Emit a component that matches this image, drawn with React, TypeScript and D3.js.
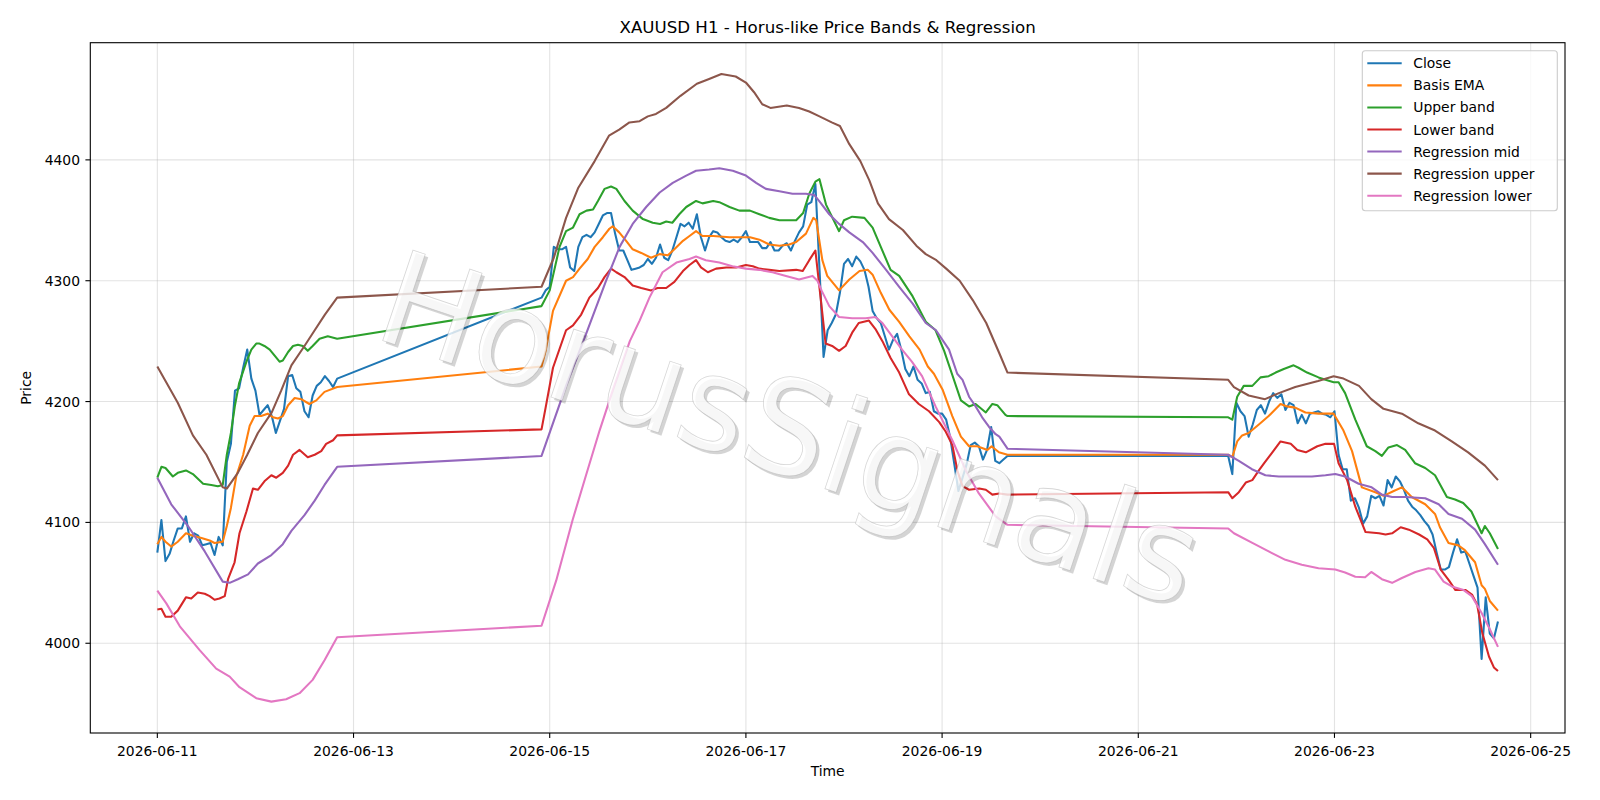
import React from 'react';
import * as d3 from 'd3';

// ---------- DATA ----------
const BASE_TIME = Date.UTC(2026, 5, 11, 0, 0, 0); // 2026-06-11 00:00
const HOUR_MS = 3600 * 1000;

// Hourly close, three trading sessions (start = hours after base time)
const closeSession1Start = 0;
const closeSession1 = [
  4075, 4102, 4068, 4074, 4085, 4095, 4095, 4105, 4084, 4091,
  4089, 4081, 4082, 4083, 4073, 4088, 4081, 4150, 4165, 4209,
  4211, 4228, 4243, 4219, 4209, 4189, 4193, 4197, 4188, 4174,
  4184, 4194, 4221, 4222, 4211, 4208, 4192, 4187, 4205, 4213,
  4216, 4221, 4217, 4212, 4219,
];
const closeSession2Start = 94;
const closeSession2 = [
  4286, 4292, 4295, 4328, 4326, 4326, 4328, 4311, 4308, 4328,
  4336, 4338, 4336, 4340, 4347, 4354, 4356, 4356, 4339, 4325,
  4325, 4317, 4309, 4310, 4311, 4313, 4318, 4314, 4319, 4330,
  4319, 4317, 4325, 4336, 4347, 4345, 4348, 4343, 4355, 4336,
  4325, 4336, 4341, 4340, 4336, 4333, 4332, 4334, 4332, 4336,
  4341, 4332, 4332, 4332, 4327, 4327, 4332, 4325, 4325, 4329,
  4331, 4325, 4333, 4340, 4345, 4363, 4365, 4380, 4310, 4237,
  4259, 4265, 4272, 4290, 4314, 4318, 4312, 4320, 4316, 4309,
  4295, 4275, 4269, 4265, 4254, 4243, 4251, 4256, 4243, 4227,
  4221, 4229, 4218, 4215, 4207, 4208, 4192, 4190, 4190, 4185,
  4170, 4148, 4126, 4137, 4148, 4164, 4166, 4163, 4152, 4160,
  4179, 4151, 4149, 4152, 4155,
];
const closeSession3Start = 262;
const closeSession3 = [
  4155, 4140, 4199, 4192, 4188, 4171, 4181, 4193, 4197, 4190,
  4200, 4207, 4203, 4206, 4193, 4199, 4197, 4182, 4189, 4182,
  4190, 4191, 4192, 4190, 4189, 4187, 4192, 4156, 4144, 4144,
  4118, 4120, 4112, 4099, 4105, 4122, 4120, 4122, 4114, 4135,
  4129, 4138, 4134, 4127, 4118, 4113, 4110, 4106, 4101, 4097,
  4090, 4075, 4061, 4061, 4063, 4075, 4086, 4075, 4076, 4066,
  4056, 4046, 3987, 4038, 4008, 4004, 4018,
];

// Smoother series as [hour, price] readings
const basisEma: [number, number][] = [
  [0, 4082], [1, 4088], [2, 4084], [3.4, 4080], [5, 4084], [7, 4091], [8.7, 4089], [10.8, 4087], [12.8, 4085], [14, 4083], [16, 4084],
  [17, 4097], [18, 4112], [19.3, 4138], [21, 4156], [22.6, 4180], [23.8, 4188], [25.4, 4188], [27, 4190], [28.3, 4187], [29.5, 4186],
  [30.7, 4188], [32, 4197], [33.6, 4203], [35.2, 4202], [37.2, 4198], [38.9, 4201], [40.9, 4208], [44, 4212],
  [94, 4229], [95, 4242], [96.8, 4275], [100, 4300], [101.7, 4303], [103.3, 4310], [105.3, 4318], [107, 4328], [109, 4336], [110.6, 4343],
  [111.4, 4345], [113, 4340], [114.7, 4333], [116.3, 4326], [118.4, 4323], [120.8, 4319], [122.9, 4322], [124.9, 4321], [126.5, 4326],
  [128.6, 4333], [130.2, 4337], [131.8, 4341], [133.4, 4337], [136, 4337], [140, 4336], [145, 4336], [147.3, 4334], [149.7, 4330],
  [152.2, 4329], [154.6, 4330], [156.3, 4332], [158.7, 4339], [160.5, 4352], [161.2, 4350], [162.7, 4317], [163.9, 4304], [166.8, 4292],
  [169.3, 4301], [171.8, 4308], [173.8, 4309], [175, 4305], [177, 4290], [179.1, 4276], [181.5, 4266], [184, 4254], [186.5, 4243],
  [188.5, 4229], [190, 4223], [192.1, 4210], [194.5, 4188], [196.6, 4171], [198.6, 4163], [200.6, 4163], [203.1, 4160], [204.1, 4163],
  [205.9, 4158], [208, 4156],
  [262, 4156], [263, 4154], [264.2, 4167], [265.4, 4172], [267, 4174], [269.5, 4181], [271.9, 4188], [274.8, 4198], [276.4, 4196],
  [278.4, 4195], [280.9, 4191], [284.1, 4190], [287.8, 4190], [290.2, 4176], [292.3, 4159], [294.7, 4129], [298, 4125], [300, 4122],
  [302.5, 4126], [304.5, 4129], [306.9, 4121], [310.2, 4115], [312.6, 4107], [313.8, 4096], [315.9, 4083], [318.3, 4081], [319.9, 4077],
  [322.4, 4067], [324, 4048], [324.8, 4045], [326, 4035], [328, 4027],
];

const upperBand: [number, number][] = [
  [0, 4137], [1, 4146], [2, 4145], [3.8, 4138], [5, 4141], [7, 4143], [8.7, 4140], [11.2, 4132], [13.2, 4131], [14.8, 4130], [16, 4131],
  [17, 4156], [18, 4174], [19, 4197], [20, 4215], [21.8, 4233], [23, 4243], [24.2, 4248], [25, 4248], [26.2, 4246], [27.5, 4243],
  [28.7, 4238], [29.9, 4233], [30.7, 4234], [32, 4241], [33.2, 4246], [34.4, 4247], [35.6, 4246], [36.8, 4242], [38, 4246],
  [39.7, 4252], [41.7, 4254], [44, 4252],
  [94, 4279], [96, 4292], [98.4, 4328], [100, 4341], [101.7, 4344], [103.3, 4355], [105, 4358], [106.6, 4359], [107.8, 4366],
  [109.4, 4376], [111, 4378], [112.3, 4376], [114.3, 4366], [116.3, 4358], [118.8, 4351], [121.2, 4348], [123, 4347], [124.5, 4349],
  [126, 4348], [127.7, 4355], [129.4, 4361], [131.8, 4366], [133.4, 4364], [136, 4366], [137.5, 4365], [140, 4361], [142.4, 4358],
  [145, 4358], [147.3, 4355], [149.7, 4352], [152.2, 4350], [156.3, 4350], [158, 4356], [159.5, 4372], [161, 4382], [162, 4384],
  [163.6, 4363], [166.8, 4341], [168, 4350], [170, 4353], [173, 4352], [175, 4344], [177, 4328], [179.4, 4309], [181.5, 4304],
  [184.8, 4287], [188, 4266], [190.4, 4259], [192.5, 4242], [194.5, 4222], [196.6, 4201], [198.6, 4196], [200.2, 4198],
  [202.7, 4191], [204.3, 4198], [205.5, 4197], [207.5, 4189], [208, 4188],
  [262, 4187], [263, 4185], [264.2, 4204], [265.8, 4213], [267.9, 4213], [269.9, 4220], [271.9, 4221], [273.6, 4224], [275.6, 4227],
  [278, 4230], [279.2, 4228], [281.3, 4224], [284.1, 4220], [285.8, 4218], [287.8, 4216], [289, 4216], [290.6, 4207], [293.1, 4185],
  [295.9, 4163], [298, 4159], [299.6, 4155], [301.2, 4162], [303.3, 4164], [305.3, 4160], [307.7, 4149], [310.2, 4145], [312.6, 4139],
  [315.5, 4121], [317.5, 4119], [319.5, 4116], [321.5, 4109], [324, 4091], [324.8, 4097], [326, 4091], [328, 4078],
];

const lowerBand: [number, number][] = [
  [0, 4028], [1, 4028.5], [2, 4022], [3.4, 4022], [5, 4027], [7, 4038], [8.3, 4037], [9.9, 4042], [11.6, 4041], [12.8, 4039],
  [14, 4036], [15.2, 4037], [16.5, 4039], [17.3, 4053], [18.9, 4067], [20.1, 4091], [21.8, 4109], [23.4, 4128], [24.6, 4127],
  [26.2, 4134], [27.9, 4139], [29.1, 4137], [30.7, 4141], [32, 4147], [33.2, 4156], [34.8, 4160], [36.8, 4154], [38.5, 4156],
  [40.1, 4159], [41.3, 4165], [43, 4168], [44, 4172],
  [94, 4177], [95, 4195], [96.8, 4228], [100, 4259], [101.7, 4263], [103.7, 4272], [105.7, 4286], [107.8, 4294], [109.4, 4303],
  [111, 4310], [112.3, 4307], [114.3, 4303], [116.3, 4296], [118.4, 4294], [120.8, 4292], [122.4, 4294], [124.5, 4294], [126.5, 4299],
  [128.6, 4308], [130.2, 4313], [131.8, 4317], [133, 4311], [134.7, 4307], [136.7, 4310], [139.2, 4311], [141.6, 4311], [144, 4313],
  [145.7, 4312], [147.3, 4310], [149.7, 4309], [152.2, 4308], [156.3, 4309], [157.9, 4308], [159.5, 4317], [161, 4325], [162.7, 4273],
  [163.5, 4248], [165.1, 4246], [166.8, 4242], [168.4, 4246], [170, 4257], [171.6, 4265], [174.1, 4267], [175.7, 4260], [177.4, 4250],
  [179.4, 4236], [181.5, 4224], [183.9, 4206], [186.3, 4198], [188.8, 4192], [191.3, 4183], [192.9, 4175], [194.5, 4164], [195.8, 4142],
  [197, 4130], [198.6, 4127], [201.1, 4128], [202.7, 4127], [204.3, 4123], [206, 4124], [208, 4123],
  [262, 4125], [263, 4120], [264.6, 4125], [266.3, 4133], [267.9, 4135], [269.5, 4143], [270.8, 4149], [272.8, 4158], [274.8, 4167],
  [277.3, 4165], [278.9, 4160], [281, 4158], [283.8, 4163], [285.8, 4165], [287.9, 4165], [289, 4149], [291.1, 4135], [293.1, 4113],
  [295.6, 4092], [298.9, 4091], [300.5, 4090], [302.1, 4091], [304.2, 4096], [306.2, 4094], [308.7, 4090], [310.7, 4086], [312.3, 4079],
  [314, 4061], [316, 4052], [317.6, 4044], [320.1, 4044], [321.7, 4040], [322.9, 4032], [324.2, 4008], [325.8, 3989], [327, 3980],
  [328, 3977],
];

const regressionMid: [number, number][] = [
  [0, 4137], [3.4, 4115], [7.5, 4097], [11.6, 4076], [16, 4051], [17.7, 4050], [19.7, 4053], [22.2, 4057], [24.6, 4066], [27.9, 4073],
  [30.7, 4082], [32.8, 4093], [36, 4106], [38.5, 4118], [40.9, 4131], [44, 4146],
  [94, 4155], [100, 4213], [104.9, 4256], [109.8, 4300], [113.1, 4328], [116.3, 4347], [119.6, 4361], [122.9, 4373], [126.1, 4381],
  [129.4, 4387], [131.8, 4391], [135, 4392], [137.5, 4393], [140.8, 4391], [144, 4387], [146.5, 4381], [148.9, 4376], [152.2, 4374],
  [155.4, 4372], [158.7, 4372], [160.7, 4371], [161.9, 4366], [164.4, 4355], [166.8, 4347], [169.3, 4340], [172.6, 4332], [175, 4323],
  [178.3, 4309], [181.5, 4295], [184.8, 4281], [188, 4265], [190.5, 4259], [193.7, 4243], [195.7, 4223], [197, 4218], [198.6, 4204],
  [200.2, 4196], [201.8, 4187], [203.5, 4179], [205.1, 4173], [206, 4171], [208, 4161],
  [262, 4156], [264.6, 4151], [267.8, 4144], [271.1, 4139], [274.4, 4138], [278.4, 4138], [282.5, 4138], [285.8, 4139], [288.2, 4140],
  [290.6, 4138], [293.9, 4132], [297.1, 4129], [299.6, 4123], [302.1, 4121], [305.3, 4121], [310.2, 4120], [313.5, 4115], [315.9, 4107],
  [319.2, 4103], [322.4, 4094], [324.8, 4082], [328, 4065],
];

const regressionUpper: [number, number][] = [
  [0, 4229], [2, 4217], [5, 4199], [8.7, 4172], [12, 4156], [16, 4129], [17, 4128], [19.7, 4141], [22, 4156], [24.6, 4174], [28, 4191],
  [30.3, 4209], [32.8, 4230], [36, 4246], [38.5, 4259], [41, 4272], [44, 4286],
  [94, 4295], [97, 4319], [100, 4352], [103, 4377], [107, 4399], [110.5, 4420], [113, 4425], [115.5, 4431], [118, 4432], [120, 4436],
  [122, 4438], [124.5, 4443], [128, 4453], [132, 4463], [135, 4467], [138, 4471], [141.5, 4469], [144, 4464], [146, 4456], [148, 4446],
  [150, 4443], [154, 4445], [157, 4443], [159.5, 4440], [162, 4436], [165, 4431], [167, 4428], [169.3, 4413], [172, 4399], [174.2, 4383],
  [176.3, 4364], [179, 4351], [182.4, 4342], [185.7, 4329], [188, 4322], [190.6, 4317], [193, 4310], [196.3, 4300], [199.5, 4284],
  [202.8, 4265], [206, 4240], [208, 4224],
  [262, 4218], [263.4, 4212], [267, 4205], [271, 4202], [274.4, 4207], [278.4, 4212], [284, 4217], [287.8, 4221], [290.2, 4219],
  [294, 4213], [297, 4202], [300, 4194], [304.5, 4190], [308.5, 4182], [312.6, 4176], [316.7, 4167], [320.7, 4158], [324.8, 4147],
  [328, 4135],
];

const regressionLower: [number, number][] = [
  [0, 4043.5], [2.2, 4033], [5.5, 4014], [10.3, 3994.5], [14.4, 3979], [17.7, 3972.4], [20.1, 3963.6], [24.2, 3954.5], [27.9, 3951.7],
  [31.5, 3953.7], [34.8, 3958.7], [38, 3969.7], [40.9, 3986], [44, 4005],
  [94, 4014.5], [97.6, 4052], [101.6, 4102], [104.7, 4137], [108.2, 4176], [111.4, 4209], [115.6, 4250], [118, 4267], [120.4, 4286],
  [123.6, 4307], [127, 4315], [130.2, 4318], [131.8, 4320], [134.2, 4317], [137.5, 4315], [140.7, 4312], [144, 4310], [147.3, 4309],
  [150.5, 4307], [153.8, 4304], [157, 4301], [160.3, 4304], [161.5, 4300], [162.5, 4292], [164.4, 4279], [166.8, 4270], [170, 4269],
  [173.3, 4269], [175.7, 4270], [177.4, 4265], [179.8, 4254], [182.2, 4243], [184.6, 4233], [187.1, 4221], [190.4, 4196], [194.5, 4168],
  [197.8, 4143], [201, 4124], [205.1, 4105], [208, 4098],
  [262, 4095], [263.4, 4091], [267.9, 4083], [271.9, 4076], [276, 4069], [280, 4065], [284.1, 4062], [288.2, 4061], [290.6, 4058.5],
  [293.1, 4055], [295.5, 4054.6], [297, 4059], [299.6, 4053], [302.1, 4050], [304.5, 4054], [307.8, 4059], [311, 4062], [312.6, 4061],
  [314.7, 4051], [316.7, 4047], [319.6, 4044], [321.6, 4039], [324, 4025], [326.1, 4011], [328, 3997],
];

const seriesNames = ['Close', 'Basis EMA', 'Upper band', 'Lower band', 'Regression mid', 'Regression upper', 'Regression lower'];
const seriesColors = ['#1f77b4', '#ff7f0e', '#2ca02c', '#d62728', '#9467bd', '#8c564b', '#e377c2'];

const xTickDays = [0, 2, 4, 6, 8, 10, 12, 14];
const xTickLabels = ['2026-06-11', '2026-06-13', '2026-06-15', '2026-06-17', '2026-06-19', '2026-06-21', '2026-06-23', '2026-06-25'];
const yTicks = [4000, 4100, 4200, 4300, 4400];

const TITLE = 'XAUUSD H1 - Horus-like Price Bands & Regression';
const WATERMARK = 'HorusSignals';

// ---------- LAYOUT ----------
const W = 1600;
const H = 800;
const M = { left: 90.3, right: 1565, top: 42.7, bottom: 733 };
const FONT = 'DejaVu Sans, Verdana, sans-serif';

const toDate = (h: number) => new Date(BASE_TIME + h * HOUR_MS);

export default function App() {
  const closeSeries: [number, number][] = [
    ...closeSession1.map((v, i) => [closeSession1Start + i, v] as [number, number]),
    ...closeSession2.map((v, i) => [closeSession2Start + i, v] as [number, number]),
    ...closeSession3.map((v, i) => [closeSession3Start + i, v] as [number, number]),
  ];
  const allSeries = [closeSeries, basisEma, upperBand, lowerBand, regressionMid, regressionUpper, regressionLower];

  const allPts = allSeries.flat();
  const [hMin, hMax] = d3.extent(allPts, (d) => d[0]) as [number, number];
  const [vMin, vMax] = d3.extent(allPts, (d) => d[1]) as [number, number];
  const hPad = (hMax - hMin) * 0.05;
  const vPad = (vMax - vMin) * 0.05;

  const x = d3.scaleUtc().domain([toDate(hMin - hPad), toDate(hMax + hPad)]).range([M.left, M.right]);
  const y = d3.scaleLinear().domain([vMin - vPad, vMax + vPad]).range([M.bottom, M.top]);

  const line = d3
    .line<[number, number]>()
    .x((d) => x(toDate(d[0])))
    .y((d) => y(d[1]));

  const cx = (M.left + M.right) / 2;
  const cy = (M.top + M.bottom) / 2;

  const legendX = 1362.3;
  const legendY = 50.7;
  const legendW = 195;
  const legendH = 160;
  const rowGap = 22.07;

  const wmX = 790;
  const wmY = 429;
  const wmAngle = 18.5;
  const wmSize = 131;

  return (
    <svg width={W} height={H} style={{ position: 'absolute', left: 0, top: 0, background: '#fff' }} fontFamily={FONT}>
      <rect x={0} y={0} width={W} height={H} fill="#fff" />
      <defs>
        <clipPath id="plotClip">
          <rect x={M.left} y={M.top} width={M.right - M.left} height={M.bottom - M.top} />
        </clipPath>
      </defs>

      {/* grid */}
      <g stroke="#b0b0b0" strokeOpacity={0.35} strokeWidth={1.1}>
        {xTickDays.map((d) => (
          <line key={'gx' + d} x1={x(toDate(d * 24))} x2={x(toDate(d * 24))} y1={M.top} y2={M.bottom} />
        ))}
        {yTicks.map((t) => (
          <line key={'gy' + t} x1={M.left} x2={M.right} y1={y(t)} y2={y(t)} />
        ))}
      </g>

      {/* series */}
      <g clipPath="url(#plotClip)" fill="none" strokeLinejoin="round" strokeLinecap="butt">
        {allSeries.map((s, i) => (
          <path key={seriesNames[i]} d={line(s) || ''} stroke={seriesColors[i]} strokeWidth={2.08} />
        ))}
      </g>

      {/* axes frame */}
      <rect x={M.left} y={M.top} width={M.right - M.left} height={M.bottom - M.top} fill="none" stroke="#000" strokeWidth={1.1} />

      {/* x ticks */}
      <g fontSize={13.9} fill="#000" textAnchor="middle">
        {xTickDays.map((d, i) => {
          const px = x(toDate(d * 24));
          return (
            <g key={'xt' + d}>
              <line x1={px} x2={px} y1={M.bottom} y2={M.bottom + 4.9} stroke="#000" strokeWidth={1.1} />
              <text x={px} y={756}>{xTickLabels[i]}</text>
            </g>
          );
        })}
      </g>

      {/* y ticks */}
      <g fontSize={13.9} fill="#000" textAnchor="end">
        {yTicks.map((t) => (
          <g key={'yt' + t}>
            <line x1={M.left - 4.9} x2={M.left} y1={y(t)} y2={y(t)} stroke="#000" strokeWidth={1.1} />
            <text x={80} y={y(t) + 5}>{t}</text>
          </g>
        ))}
      </g>

      {/* labels */}
      <text x={cx} y={33} fontSize={16.67} textAnchor="middle" fill="#000">{TITLE}</text>
      <text x={cx} y={776} fontSize={13.9} textAnchor="middle" fill="#000">Time</text>
      <text transform={`translate(31, ${cy}) rotate(-90)`} fontSize={13.9} textAnchor="middle" fill="#000">Price</text>

      {/* legend */}
      <g>
        <rect x={legendX} y={legendY} width={legendW} height={legendH} rx={3} ry={3} fill="#fff" fillOpacity={0.8} stroke="#cccccc" strokeWidth={1.1} />
        {seriesNames.map((n, i) => {
          const ly = 63.3 + i * rowGap;
          return (
            <g key={'lg' + n}>
              <line x1={1367.3} x2={1401.7} y1={ly} y2={ly} stroke={seriesColors[i]} strokeWidth={2.08} />
              <text x={1413.3} y={ly + 5} fontSize={13.9} fill="#000">{n}</text>
            </g>
          );
        })}
      </g>

      {/* watermark */}
      <g transform={`translate(${wmX + 3}, ${wmY + 3}) rotate(${wmAngle})`}>
        <text x={0} y={0} fontSize={wmSize} textAnchor="middle" dominantBaseline="central" fill="#000" fillOpacity={0.17}>{WATERMARK}</text>
      </g>
      <g transform={`translate(${wmX}, ${wmY}) rotate(${wmAngle})`}>
        <text x={0} y={0} fontSize={wmSize} textAnchor="middle" dominantBaseline="central" fill="#fff" fillOpacity={0.8} stroke="#9a9a9a" strokeOpacity={0.4} strokeWidth={0.8}>{WATERMARK}</text>
      </g>
    </svg>
  );
}
